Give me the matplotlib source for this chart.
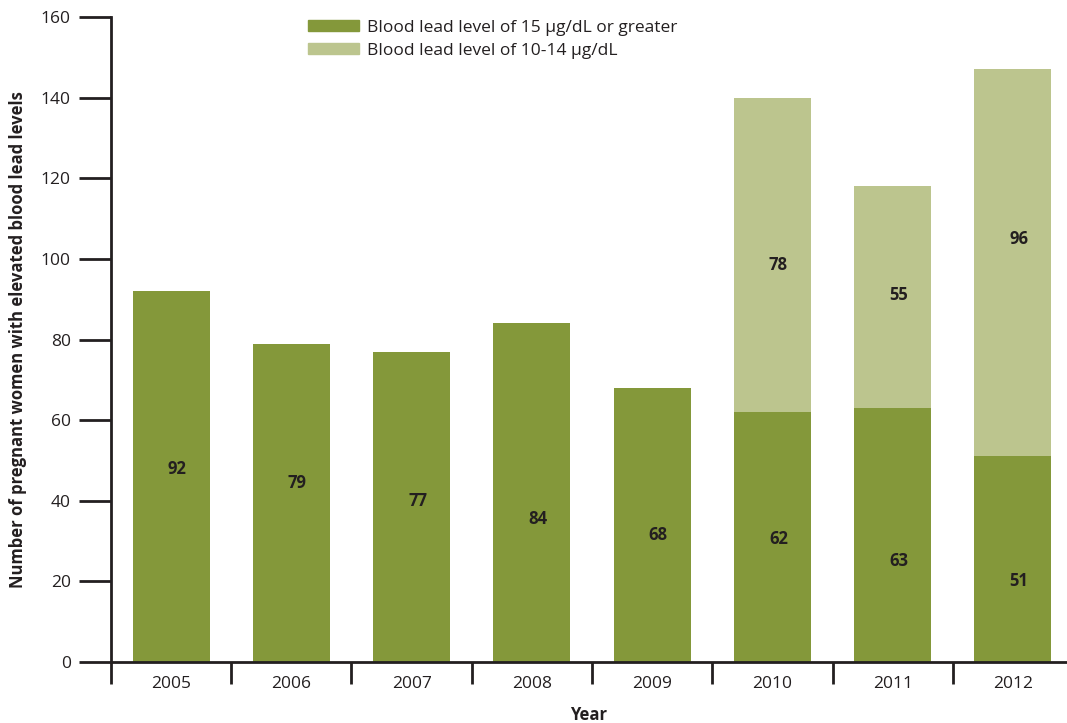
import matplotlib
matplotlib.use("Agg")
import matplotlib.pyplot as plt
from matplotlib.patches import Patch

# Data
years = ["2005", "2006", "2007", "2008", "2009", "2010", "2011", "2012"]
lead_15_plus = [92, 79, 77, 84, 68, 62, 63, 51]
lead_10_14 = [0, 0, 0, 0, 0, 78, 55, 96]

# where the value labels sit (in data units), as placed in the original
label_y_dark = [48, 44.5, 40, 35.5, 31.5, 30.5, 25, 20]
label_y_light = [None, None, None, None, None, 98.5, 91, 105]

dark_green = "#84983A"
light_green = "#BCC58E"
text_col = "#231F20"

plt.rcParams["font.family"] = ["Open Sans", "DejaVu Sans"]

fig = plt.figure(figsize=(10.67, 7.23), dpi=100)
ax = fig.add_axes([0.104, 0.0844, 0.896, 0.892])

x = range(len(years))
ax.bar(x, lead_15_plus, width=0.64, color=dark_green, zorder=2)
ax.bar(x, lead_10_14, width=0.64, bottom=lead_15_plus, color=light_green, zorder=2)

# value labels
for i in x:
    ax.text(i + 0.05, label_y_dark[i], str(lead_15_plus[i]), ha="center", va="center",
            fontsize=12, fontweight="bold", color=text_col)
    if lead_10_14[i] > 0:
        ax.text(i + 0.05, label_y_light[i], str(lead_10_14[i]), ha="center",
                va="center", fontsize=12, fontweight="bold", color=text_col)

ax.set_xlim(-0.5, 7.45)
ax.set_ylim(0, 160)
ax.set_yticks(range(0, 161, 20))
ax.tick_params(axis="y", length=23, width=2, colors=text_col, labelsize=12.5, pad=6)

# category boundary ticks on x axis, labels in the middle
ax.set_xticks([i - 0.5 for i in range(len(years))])
ax.set_xticklabels([])
ax.set_xticks(list(x), minor=True)
ax.set_xticklabels(years, minor=True)
ax.tick_params(axis="x", which="major", length=16, width=2, colors=text_col)
ax.tick_params(axis="x", which="minor", length=0, labelsize=12.5, pad=10, labelcolor=text_col)

for side in ["top", "right"]:
    ax.spines[side].set_visible(False)
for side in ["left", "bottom"]:
    ax.spines[side].set_linewidth(2)
    ax.spines[side].set_color(text_col)

ax.set_ylabel("Number of pregnant women with elevated blood lead levels", fontsize=12,
              fontweight="bold", color=text_col, labelpad=10)
ax.set_xlabel("Year", fontsize=12, fontweight="bold", color=text_col, labelpad=10)

handles = [Patch(color=dark_green, label="Blood lead level of 15 \u00b5g/dL or greater"),
           Patch(color=light_green, label="Blood lead level of 10-14 \u00b5g/dL")]
ax.legend(handles=handles, loc="upper left", bbox_to_anchor=(0.19, 1.02), frameon=False,
          fontsize=12.5, handlelength=2.9, handleheight=0.6, labelspacing=0.4, handletextpad=0.5,
          labelcolor=text_col)

fig.savefig("out.png", dpi=100)
